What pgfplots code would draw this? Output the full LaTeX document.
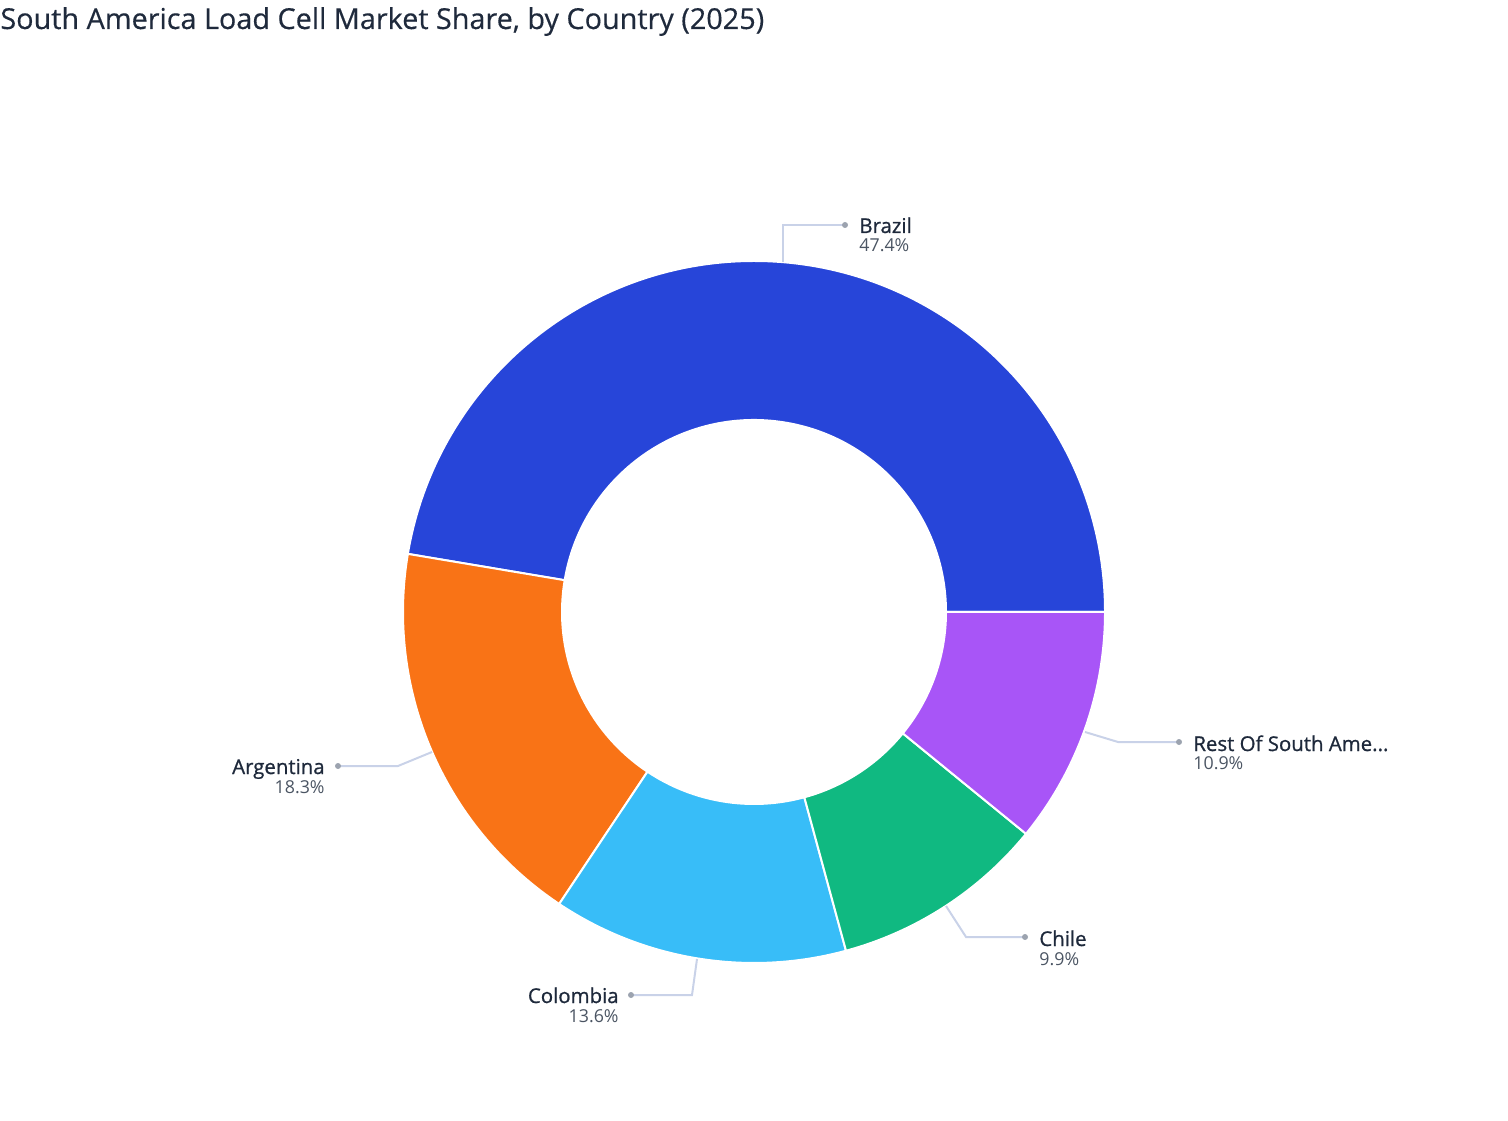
\documentclass[border=0pt]{standalone}
\usepackage{fontspec}
\setmainfont{Open Sans}
\newfontfamily\namefont[FakeBold=0.9]{Open Sans}
\newfontfamily\titlefont[FakeBold=0.4]{Open Sans}
\usepackage{pgfplots}
\pgfplotsset{compat=1.18}
\definecolor{cBrazil}{HTML}{2745D9}
\definecolor{cArg}{HTML}{F97316}
\definecolor{cCol}{HTML}{38BDF8}
\definecolor{cChile}{HTML}{10B981}
\definecolor{cRest}{HTML}{A855F7}
\definecolor{cLine}{HTML}{C9D2E8}
\definecolor{cDot}{HTML}{9CA3AF}
\definecolor{cName}{HTML}{1E293B}
\definecolor{cPct}{HTML}{4B5563}
\definecolor{cTitle}{HTML}{1F2A3C}
% market shares (%)
\def\vBrazil{47.4}
\def\vArg{18.3}
\def\vCol{13.6}
\def\vChile{9.9}
\def\vRest{10.9}
\def\total{100.1}
\newcommand\slice[3]{% cumulative before, value, colour
  \pgfmathsetmacro\sa{#1/\total*360}%
  \pgfmathsetmacro\sb{(#1+#2)/\total*360}%
  \edef\doit{\noexpand\fill[#3,draw=white,line width=1pt] (axis cs:754,508) ++(\sa:175.5pt)
    arc[start angle=\sa, end angle=\sb, radius=175.5pt] -- ++(\sb:-79.5pt)
    arc[start angle=\sb, end angle=\sa, radius=96pt] -- cycle;}%
  \doit}
\begin{document}
\begin{tikzpicture}
\begin{axis}[at={(0,0)}, anchor=south west, scale only axis,
  width=754pt, height=560pt, xmin=0, xmax=1508, ymin=0, ymax=1120,
  hide axis, clip=false]
\slice{0}{\vBrazil}{cBrazil}
\slice{47.4}{\vArg}{cArg}
\slice{65.7}{\vCol}{cCol}
\slice{79.3}{\vChile}{cChile}
\slice{89.2}{\vRest}{cRest}
% leader lines
\draw[cLine, line width=1pt] (axis cs:783,858) -- (axis cs:783,895) -- (axis cs:845,895);
\draw[cLine, line width=1pt] (axis cs:432,368) -- (axis cs:398,354) -- (axis cs:338,354);
\draw[cLine, line width=1pt] (axis cs:697,161) -- (axis cs:692,125) -- (axis cs:631,125);
\draw[cLine, line width=1pt] (axis cs:946,214) -- (axis cs:966,183) -- (axis cs:1025,183);
\draw[cLine, line width=1pt] (axis cs:1085,388) -- (axis cs:1118,378) -- (axis cs:1179,378);
\fill[cDot] (axis cs:845,895) circle[radius=1.5pt];
\fill[cDot] (axis cs:338,354) circle[radius=1.5pt];
\fill[cDot] (axis cs:631,125) circle[radius=1.5pt];
\fill[cDot] (axis cs:1025,183) circle[radius=1.5pt];
\fill[cDot] (axis cs:1179,378) circle[radius=1.5pt];
% labels
\tikzset{nm/.style={inner sep=0pt, text=cName, font=\namefont\fontsize{10.2pt}{12pt}\selectfont},
         pc/.style={inner sep=0pt, text=cPct, font=\fontsize{8.9pt}{10pt}\selectfont}}
\node[nm, anchor=base west] at (axis cs:859,887) {Brazil};
\node[pc, anchor=base west] at (axis cs:859,868) {47.4\%};
\node[nm, anchor=base east] at (axis cs:325,346) {Argentina};
\node[pc, anchor=base east] at (axis cs:325,327) {18.3\%};
\node[nm, anchor=base east] at (axis cs:619,117) {Colombia};
\node[pc, anchor=base east] at (axis cs:619,98) {13.6\%};
\node[nm, anchor=base west] at (axis cs:1039,174) {Chile};
\node[pc, anchor=base west] at (axis cs:1039,155) {9.9\%};
\node[nm, anchor=base west] at (axis cs:1193,369) {Rest Of South Ame...};
\node[pc, anchor=base west] at (axis cs:1193,351) {10.9\%};
\node[inner sep=0pt, anchor=base west, text=cTitle, font=\titlefont\fontsize{14.4pt}{16pt}\selectfont]
  at (axis cs:0,1091) {South America Load Cell Market Share, by Country (2025)};
\end{axis}
\pgfresetboundingbox
\path (0,0) rectangle (754pt,560pt);
\end{tikzpicture}
\end{document}
